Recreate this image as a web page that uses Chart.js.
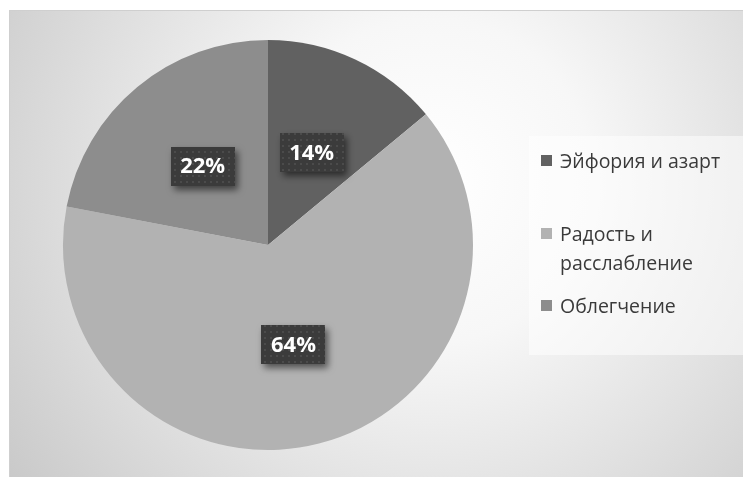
<!DOCTYPE html>
<html lang="ru">
<head>
  <meta charset="UTF-8" />
  <title>Эмоции</title>
  <script src="https://cdn.jsdelivr.net/npm/chart.js"></script>
  <style>
    body {
      margin: 0;
      background: #fff;
      font-family: "Open Sans", sans-serif;
    }
    .frame {
      position: absolute;
      left: 9px;
      top: 10px;
      width: 734px;
      height: 467px;
      border-left: 1px solid #cfcfcf;
      border-top: 1px solid #cfcfcf;
      box-sizing: border-box;
    }
    canvas { display: block; }
    .legend {
      position: absolute;
      left: 519px;
      top: 125px;
      width: 215px;
      height: 219px;
      background: rgba(255, 255, 255, 0.5);
      color: #3a3a3a;
      font-size: 19.5px;
    }
    .legend .item {
      position: absolute;
      left: 31px;
      line-height: 29px;
      white-space: nowrap;
    }
    .legend .sw {
      position: absolute;
      left: -19px;
      top: 9px;
      width: 11px;
      height: 11px;
    }
  </style>
</head>
<body>
  <div class="frame">
    <canvas id="pie" width="733" height="466"></canvas>
    <div class="legend" id="legend"></div>
  </div>

  <script>
    const categories = ['Эйфория и азарт', 'Радость и\nрасслабление', 'Облегчение'];
    const shares = [14, 64, 22];
    const sliceColors = ['#616161', '#b2b2b2', '#8d8d8d'];
    const legendTops = [10, 83, 155];

    // legend in html, so the second item can wrap onto two lines
    const legend = document.getElementById('legend');
    categories.forEach((name, i) => {
      const div = document.createElement('div');
      div.className = 'item';
      div.style.top = legendTops[i] + 'px';
      div.innerHTML = '<span class="sw" style="background:' + sliceColors[i] + '"></span>' +
        name.replace('\n', '<br>');
      legend.appendChild(div);
    });

    // dotted fill for the label boxes
    const pc = document.createElement('canvas');
    pc.width = 6; pc.height = 6;
    const px = pc.getContext('2d');
    px.fillStyle = '#3b3b3b';
    px.fillRect(0, 0, 6, 6);
    px.fillStyle = '#4b4b4b';
    px.fillRect(2, 2, 2, 2);

    const backdrop = {
      id: 'backdrop',
      beforeDraw(chart) {
        const c = chart.ctx;
        const g = c.createRadialGradient(420, 170, 0, 420, 170, 540);
        g.addColorStop(0, '#ffffff');
        g.addColorStop(0.3, '#f7f7f7');
        g.addColorStop(1, '#c6c6c6');
        c.save();
        c.fillStyle = g;
        c.fillRect(0, 0, chart.width, chart.height);
        c.restore();
      }
    };

    const boxLabels = {
      id: 'boxLabels',
      afterDatasetsDraw(chart) {
        const c = chart.ctx;
        const pattern = c.createPattern(pc, 'repeat');
        chart.getDatasetMeta(0).data.forEach((arc, i) => {
          const p = arc.getCenterPoint();
          const w = 64, h = 39;
          c.save();
          c.shadowColor = 'rgba(0,0,0,0.55)';
          c.shadowBlur = 7;
          c.shadowOffsetX = 3;
          c.shadowOffsetY = 4;
          c.fillStyle = pattern;
          c.fillRect(Math.round(p.x - w / 2), Math.round(p.y - h / 2), w, h);
          c.restore();
          c.save();
          c.fillStyle = '#ffffff';
          c.font = 'bold 22px "Open Sans"';
          c.textAlign = 'center';
          c.textBaseline = 'middle';
          c.fillText(shares[i] + '%', p.x, p.y + 1);
          c.restore();
        });
      }
    };

    new Chart(document.getElementById('pie'), {
      type: 'pie',
      data: {
        labels: categories,
        datasets: [{
          data: shares,
          backgroundColor: sliceColors,
          borderWidth: 0
        }]
      },
      options: {
        responsive: false,
        animation: false,
        layout: { padding: { left: 53, right: 270, top: 29, bottom: 27 } },
        plugins: {
          legend: { display: false },
          tooltip: { enabled: false }
        }
      },
      plugins: [backdrop, boxLabels]
    });
  </script>
</body>
</html>
